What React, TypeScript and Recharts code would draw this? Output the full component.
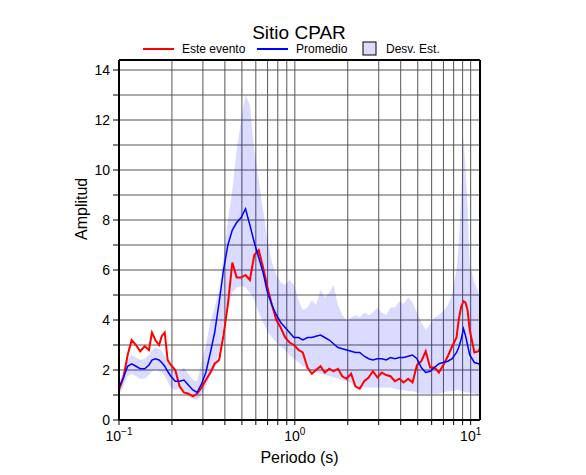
import { ComposedChart, Line, Area, XAxis, YAxis, CartesianGrid } from 'recharts';

const FONT = '"Liberation Sans", Arial, Helvetica, sans-serif';

// periodo (s)
const periods = [
  0.1, 0.106, 0.112, 0.118, 0.125, 0.132, 0.14, 0.148,
  0.154, 0.161, 0.169, 0.175, 0.182, 0.189, 0.197,
  0.209, 0.221, 0.234, 0.248, 0.263, 0.278, 0.295,
  0.312, 0.331, 0.35, 0.371, 0.393, 0.416, 0.441, 0.467, 0.495, 0.524,
  0.555, 0.588, 0.623, 0.66, 0.699, 0.741, 0.785, 0.831, 0.881, 0.933, 0.988,
  1.05, 1.11, 1.18, 1.25, 1.32, 1.4, 1.48, 1.57, 1.66, 1.76, 1.86, 1.97,
  2.09, 2.21, 2.34, 2.48, 2.63, 2.78, 2.95, 3.12, 3.31, 3.5, 3.71, 3.93,
  4.16, 4.41, 4.67, 4.95, 5.24, 5.55, 5.88, 6.23, 6.6, 6.99,
  7.41, 7.85, 8.31, 8.55, 8.81, 9.1, 9.33, 9.6, 9.88, 10.5, 11.1, 11.3,
];

const esteEvento = [
  1.2, 1.7, 2.6, 3.2, 3.0, 2.75, 2.95, 2.8,
  3.5, 3.2, 3.0, 3.35, 3.5, 2.4, 2.2,
  2.0, 1.35, 1.1, 1.05, 0.95, 1.05, 1.3,
  1.6, 1.9, 2.25, 2.4, 3.4, 4.6, 6.3, 5.7, 5.7, 5.8,
  5.6, 6.6, 6.8, 6.1, 5.3, 4.6, 4.0, 3.7, 3.3, 3.1, 3.0,
  2.8, 2.7, 2.1, 1.85, 2.0, 2.15, 1.9, 2.05, 1.95, 2.05, 1.75, 1.65,
  1.85, 1.35, 1.25, 1.55, 1.7, 1.95, 1.7, 1.9, 1.8, 1.75, 1.55, 1.65,
  1.5, 1.65, 1.5, 2.2, 2.35, 2.75, 2.1, 2.1, 1.9, 2.2,
  2.55, 2.95, 3.3, 4.0, 4.5, 4.75, 4.7, 4.4, 3.6, 2.7, 2.75, 2.9,
];

const promedio = [
  1.3, 1.7, 2.15, 2.25, 2.15, 2.05, 2.05, 2.2,
  2.4, 2.45, 2.4, 2.3, 2.15, 1.95, 1.75,
  1.55, 1.55, 1.6, 1.4, 1.2, 1.1, 1.45,
  1.9, 2.7, 3.5, 4.7, 6.0, 7.0, 7.6, 7.9, 8.1, 8.45,
  7.8, 7.1, 6.5, 5.9, 5.1, 4.6, 4.2, 3.9, 3.7, 3.5, 3.3,
  3.3, 3.2, 3.3, 3.3, 3.35, 3.4, 3.3, 3.2, 3.05, 2.9, 2.85, 2.8,
  2.75, 2.7, 2.7, 2.55, 2.45, 2.4, 2.45, 2.45, 2.4, 2.5, 2.45, 2.5,
  2.5, 2.55, 2.6, 2.45, 2.1, 1.9, 1.95, 2.1, 2.25, 2.3,
  2.35, 2.45, 2.7, 2.9, 3.2, 3.65, 3.4, 3.0, 2.6, 2.3, 2.25, 2.2,
];

const desvInf = [
  1.0, 1.35, 1.75, 1.85, 1.75, 1.65, 1.65, 1.8,
  1.95, 2.0, 1.95, 1.9, 1.75, 1.55, 1.3,
  1.2, 1.25, 1.15, 0.95, 0.85, 0.8, 1.0,
  1.35, 1.8, 2.1, 2.7, 3.8, 4.5, 5.1, 5.3, 5.35, 5.3,
  5.1, 4.8, 4.3, 3.9, 3.55, 3.3, 3.1, 2.95, 2.8, 2.6, 2.45,
  2.3, 2.15, 2.05, 1.95, 1.9, 1.85, 1.8, 1.75, 1.7, 1.65, 1.6, 1.55,
  1.5, 1.3, 1.3, 1.3, 1.3, 1.3, 1.3, 1.3, 1.3, 1.3, 1.25, 1.2,
  1.2, 1.15, 1.15, 1.1, 1.05, 1.05, 1.05, 1.05, 1.05, 1.1,
  1.15, 1.15, 1.2, 1.2, 1.15, 1.15, 1.1, 1.1, 1.1, 1.05, 1.0, 1.0,
];

const desvSup = [
  1.55, 1.9, 2.4, 2.6, 2.5, 2.4, 2.45, 2.6,
  2.8, 2.9, 2.85, 2.75, 2.55, 2.35, 2.15,
  1.95, 1.95, 2.1, 1.85, 1.6, 1.55, 2.3,
  3.0, 3.9, 4.5, 5.2, 6.5, 8.0, 9.2, 10.8, 12.0, 13.0,
  12.6, 10.8, 9.6, 8.4, 7.2, 6.3, 5.8, 5.5, 5.4, 5.6, 5.4,
  4.8, 4.4, 4.5, 4.8, 4.6, 5.2, 4.9, 5.1, 5.4, 4.6, 4.2, 4.0,
  4.1, 4.2, 4.1, 4.3, 4.2, 4.3, 4.5, 4.3, 4.2, 4.5, 4.5, 4.75,
  4.65, 4.9, 4.7, 4.3, 3.9, 3.6, 3.85, 4.1, 4.2, 4.35,
  4.6, 5.0, 6.0, 7.0, 8.9, 11.3, 10.2, 8.6, 6.2, 5.5, 5.1, 5.0,
];

const xTicks = [0.1, 0.2, 0.3, 0.4, 0.5, 0.6, 0.7, 0.8, 0.9, 1, 2, 3, 4, 5, 6, 7, 8, 9, 10];
const yTicks = [0, 1, 2, 3, 4, 5, 6, 7, 8, 9, 10, 11, 12, 13, 14];
const xExponents: Record<string, string> = { '0.1': '\u22121', '1': '0', '10': '1' };

const legendItems = [
  { label: 'Este evento', color: '#ff0000', kind: 'line', x: 143 },
  { label: 'Promedio', color: '#0000ff', kind: 'line', x: 257 },
  { label: 'Desv. Est.', color: '#dcdcfa', kind: 'box', x: 363 },
];

const data = periods.map((p, i) => ({
  periodo: p,
  este: esteEvento[i],
  prom: promedio[i],
  desv: [desvInf[i], desvSup[i]],
}));

const XTick = ({ x, y, payload }: any) => {
  const exp = xExponents[String(payload.value)];
  if (!exp) return null;
  return (
    <text x={x} y={y + 13} textAnchor="middle" fontSize={14} fontFamily={FONT} fill="#000">
      10
      <tspan dy={-6} fontSize={10}>{exp}</tspan>
    </text>
  );
};

const YTick = ({ x, y, payload }: any) => {
  if (payload.value % 2 !== 0) return null;
  return (
    <text x={x} y={y + 5} textAnchor="end" fontSize={14} fontFamily={FONT} fill="#000">
      {payload.value}
    </text>
  );
};

export default function App() {
  return (
    <div style={{ position: 'absolute', left: 0, top: 0, width: 586, height: 475, background: '#fff' }}>
      <svg width={586} height={60} style={{ position: 'absolute', left: 0, top: 0 }}>
        <text x={299} y={39} textAnchor="middle" fontSize={19} fontFamily={FONT}>
          Sitio CPAR
        </text>
        {legendItems.map((it) => (
          <g key={it.label}>
            {it.kind === 'line' ? (
              <line x1={it.x} x2={it.x + 31} y1={49} y2={49} stroke={it.color} strokeWidth={2} />
            ) : (
              <rect x={it.x} y={42} width={13} height={13} fill={it.color} stroke="#000" strokeWidth={1} />
            )}
            <text x={it.kind === 'line' ? it.x + 39 : it.x + 23} y={53} fontSize={12} fontFamily={FONT}>
              {it.label}
            </text>
          </g>
        ))}
      </svg>
      <ComposedChart
        width={586}
        height={475}
        data={data}
        margin={{ top: 50, right: 96, bottom: 25, left: 59 }}
      >
        <CartesianGrid stroke="#555" strokeWidth={1} />
        <XAxis
          dataKey="periodo"
          type="number"
          scale="log"
          domain={[0.1, 11.3]}
          allowDataOverflow
          ticks={xTicks}
          interval={0}
          height={30}
          tickSize={5}
          tickMargin={3}
          tick={<XTick />}
          axisLine={{ stroke: '#000', strokeWidth: 2 }}
          tickLine={{ stroke: '#000' }}
          label={{ value: 'Periodo (s)', position: 'bottom', offset: 2, fontSize: 16, fontFamily: FONT, fill: '#000' }}
        />
        <XAxis
          xAxisId="top"
          orientation="top"
          type="number"
          scale="log"
          domain={[0.1, 11.3]}
          allowDataOverflow
          ticks={xTicks}
          interval={0}
          height={10}
          tickSize={5}
          tick={false}
          axisLine={{ stroke: '#000', strokeWidth: 2 }}
          tickLine={{ stroke: '#000' }}
        />
        <YAxis
          type="number"
          domain={[0, 14.4]}
          allowDataOverflow
          ticks={yTicks}
          interval={0}
          width={60}
          tickSize={6}
          tickMargin={3}
          tick={<YTick />}
          axisLine={{ stroke: '#000', strokeWidth: 2 }}
          tickLine={{ stroke: '#000' }}
          label={{ value: 'Amplitud', angle: -90, position: 'insideLeft', offset: 22, fontSize: 16, fontFamily: FONT, fill: '#000' }}
        />
        <YAxis
          yAxisId="right"
          orientation="right"
          type="number"
          domain={[0, 14.4]}
          allowDataOverflow
          ticks={yTicks}
          interval={0}
          width={10}
          tickSize={5}
          tick={false}
          axisLine={{ stroke: '#000', strokeWidth: 2 }}
          tickLine={{ stroke: '#000' }}
        />
        <Area
          type="linear"
          dataKey="desv"
          fill="#0000ff"
          fillOpacity={0.14}
          stroke="none"
          isAnimationActive={false}
        />
        <Line type="linear" dataKey="este" stroke="#ff0000" strokeWidth={2} dot={false} isAnimationActive={false} />
        <Line type="linear" dataKey="prom" stroke="#0000ff" strokeWidth={1.5} dot={false} isAnimationActive={false} />
      </ComposedChart>
    </div>
  );
}
